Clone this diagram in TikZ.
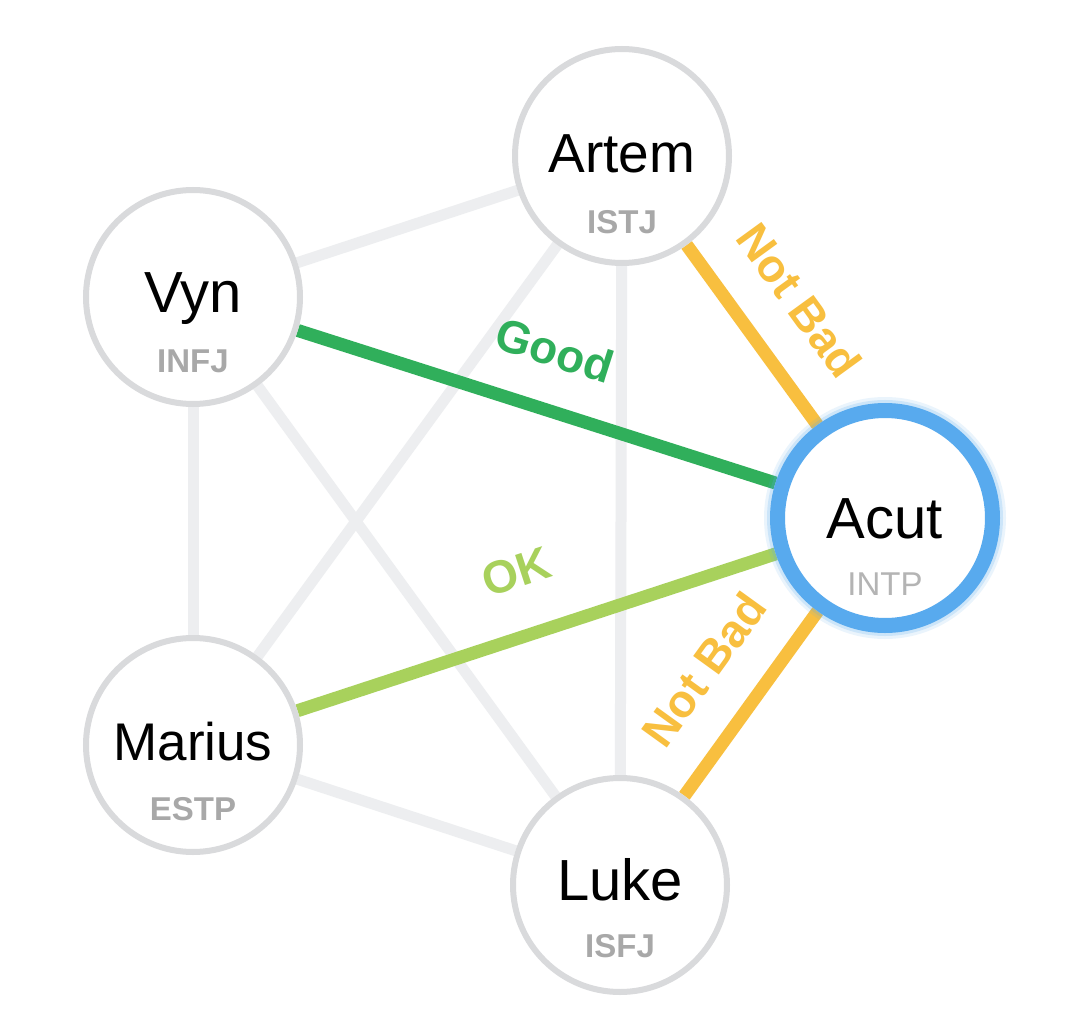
\documentclass[tikz,border=0pt]{standalone}
\usepackage{fontspec}
\setmainfont{Liberation Sans}
\usetikzlibrary{backgrounds}
\definecolor{edgegray}{HTML}{EDEEF0}
\definecolor{ringgray}{HTML}{D9DADC}
\definecolor{typegray}{HTML}{A8A8A8}
\definecolor{typelight}{HTML}{B4B4B4}
\definecolor{goodgreen}{HTML}{30AF5B}
\definecolor{okgreen}{HTML}{A8D15C}
\definecolor{notbad}{HTML}{F8BF3F}
\definecolor{acutblue}{HTML}{58AAEE}
\begin{document}
\begin{tikzpicture}[x=1pt,y=-1pt,
  person/.style={circle, draw=ringgray, line width=6pt, fill=white, minimum size=214pt, inner sep=0pt},
  focus/.style={circle, draw=acutblue, line width=15pt, fill=white, minimum size=215pt, inner sep=0pt},
  pname/.style={anchor=base, inner sep=0pt, text=black},
  ptype/.style={anchor=base, inner sep=0pt, text=typegray, font=\fontsize{33}{40}\selectfont\bfseries},
  gedge/.style={draw=edgegray, line width=11pt},
  cedge/.style={line width=13pt},
  lbl/.style={midway, sloped, inner sep=0pt, font=\fontsize{46}{52}\selectfont\bfseries}
]
\useasboundingbox (0,0) rectangle (1080,1033);

\node[person] (artem) at (622,156) {};
\node[person] (vyn) at (193,297) {};
\node[focus] (acut) at (885,518) {};
\node[person] (marius) at (193,745) {};
\node[person] (luke) at (620,885) {};

\node[pname, font=\fontsize{55}{60}\selectfont] (artemN) at ([yshift=-16pt]artem.center) {Artem};
\node[ptype] (artemT) at ([yshift=-77pt]artem.center) {ISTJ};
\node[pname, font=\fontsize{58}{64}\selectfont] (vynN) at ([yshift=-15pt]vyn.center) {Vyn};
\node[ptype] (vynT) at ([yshift=-75pt]vyn.center) {INFJ};
\node[pname, font=\fontsize{58}{64}\selectfont] (acutN) at ([yshift=-20pt]acut.center) {Acut};
\node[ptype, text=typelight, font=\fontsize{33}{40}\selectfont] (acutT) at ([yshift=-77pt]acut.center) {INTP};
\node[pname, font=\fontsize{53}{60}\selectfont] (mariusN) at ([yshift=-15pt]marius.center) {Marius};
\node[ptype] (mariusT) at ([yshift=-75pt]marius.center) {ESTP};
\node[pname, font=\fontsize{58}{64}\selectfont] (lukeN) at ([yshift=-15pt]luke.center) {Luke};
\node[ptype] (lukeT) at ([yshift=-72pt]luke.center) {ISFJ};

\begin{scope}[on background layer]
  \fill[white] (0,0) rectangle (1080,1033);
  \draw[gedge] (artem) -- (vyn);
  \draw[gedge] (artem) -- (marius);
  \draw[gedge] (artem) -- (luke);
  \draw[gedge] (vyn) -- (marius);
  \draw[gedge] (vyn) -- (luke);
  \draw[gedge] (marius) -- (luke);
  \draw[cedge, draw=goodgreen] (vyn) -- node[lbl, above=36pt, text=goodgreen] (goodL) {Good} (acut);
  \draw[cedge, draw=okgreen] (marius) -- node[lbl, above=41pt, text=okgreen] (okL) {OK} (acut);
  \draw[cedge, draw=notbad] (artem) -- node[lbl, above=35pt, text=notbad] (nb1L) {Not Bad} (acut);
  \draw[cedge, draw=notbad] (luke) -- node[lbl, above=35pt, text=notbad] (nb2L) {Not Bad} (acut);
  \draw[acutblue, opacity=0.12, line width=27pt] (acut.center) circle (107.5pt);
  \draw[acutblue, opacity=0.2, line width=21pt] (acut.center) circle (107.5pt);
\end{scope}
\end{tikzpicture}
\end{document}
